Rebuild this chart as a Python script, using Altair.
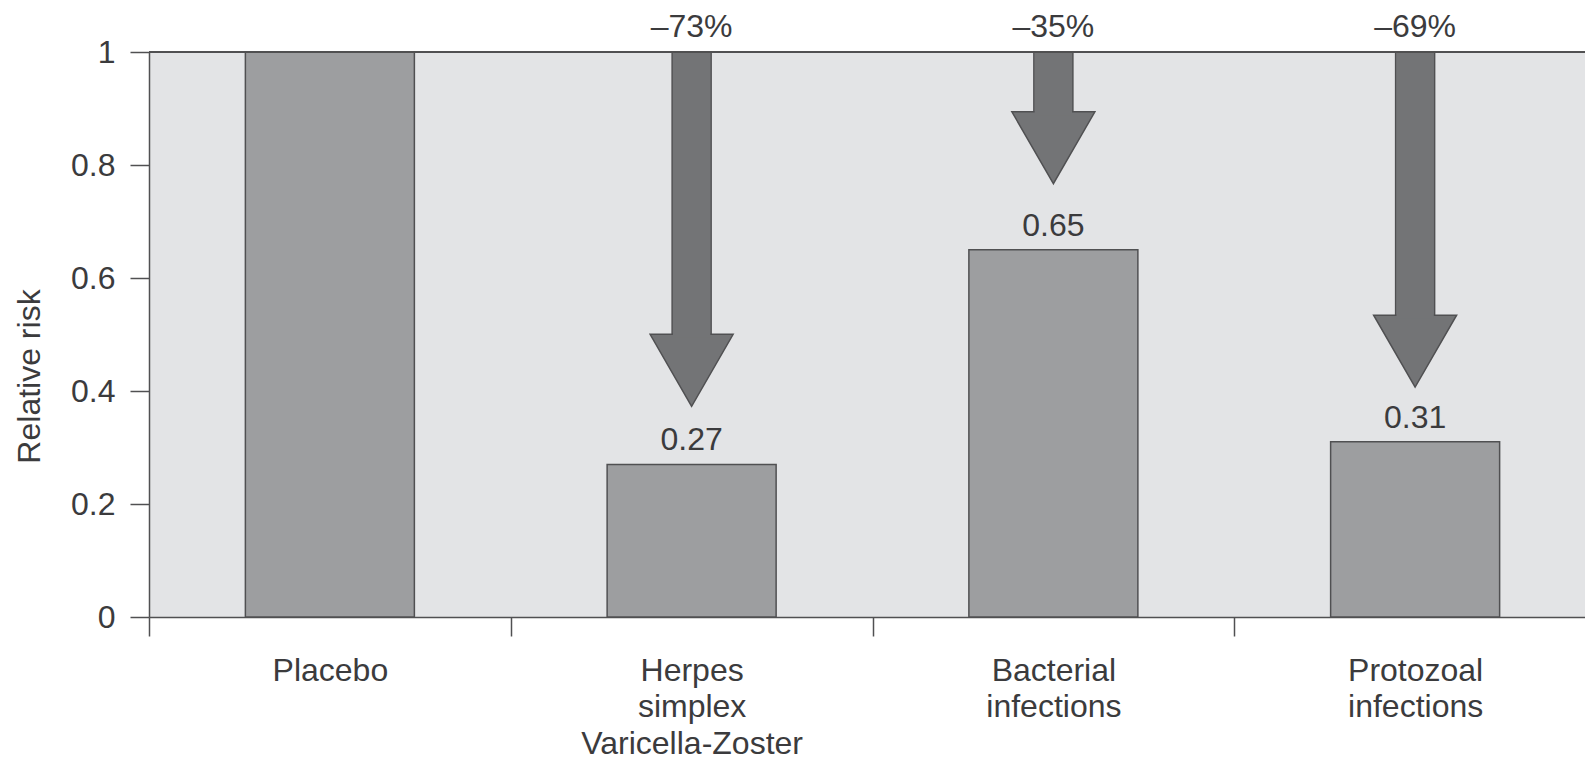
import altair as alt
import pandas as pd

# Categories ("|" separates the lines of a multi-line axis label)
categories = [
    "Placebo",
    "Herpes|simplex|Varicella-Zoster",
    "Bacterial|infections",
    "Protozoal|infections",
]
relative_risk = [1.0, 0.27, 0.65, 0.31]

# Reduction arrows for the treated groups
arrow_categories = categories[1:]
arrow_tips = [0.373, 0.767, 0.407]
reduction_labels = ["–73%", "–35%", "–69%"]

# Layout and style
PLOT_W, PLOT_H = 1436, 565
BAND_SPAN = 1447          # the last band runs past the right edge of the page
BAR_PX = 169
SHAFT_PX = 39
HEAD_PX = 83              # width of the arrow head
HEAD_LEN = (HEAD_PX * 3 ** 0.5 / 2) / PLOT_H   # head height in data units
FONT = "Liberation Sans"
TEXT = "#3b3b3d"
LINE = "#505052"
BAR_FILL = "#9d9ea0"
ARROW_FILL = "#737476"

bars_df = pd.DataFrame({
    "category": categories,
    "risk": relative_risk,
    "label": [""] + [f"{v:.2f}" for v in relative_risk[1:]],
})

arrows_df = pd.DataFrame({
    "category": arrow_categories,
    "tip": arrow_tips,
    "pct": reduction_labels,
})
arrows_df["head_mid"] = arrows_df["tip"] + HEAD_LEN / 2
arrows_df["head_base"] = arrows_df["tip"] + HEAD_LEN
arrows_df["cover_end"] = arrows_df["head_base"] - 0.006
arrows_df["top"] = 1.0

x_scale = alt.Scale(domain=categories, range=[0, BAND_SPAN], paddingInner=0, paddingOuter=0)
y_scale = alt.Scale(domain=[0, 1], nice=False, zero=True)

x_axis = alt.Axis(
    title=None,
    labelExpr="isValid(datum.value) ? split(datum.value, '|') : ''",
    labelAngle=0,
    labelBaseline="top",
    labelLineHeight=36.5,
    labelPadding=19,
    labelLimit=0,
    tickSize=19,
    tickBand="extent",
)
y_axis = alt.Axis(
    title="Relative risk",
    values=[0, 0.2, 0.4, 0.6, 0.8, 1],
    format="~g",
    tickSize=19,
    labelPadding=15,
    titleX=-120,
    titleY=324,
    titleAngle=-90,
    titleAlign="center",
    titleBaseline="middle",
)

x_enc = alt.X("category:N", sort=categories, scale=x_scale, axis=x_axis)


def y_enc(field):
    return alt.Y(f"{field}:Q", scale=y_scale, axis=y_axis)


bars = alt.Chart(bars_df).mark_bar(
    size=BAR_PX, fill=BAR_FILL, stroke=LINE, strokeWidth=1.5
).encode(x=x_enc, y=y_enc("risk"))

bar_labels = alt.Chart(bars_df).mark_text(
    dy=-14, baseline="alphabetic", font=FONT, fontSize=32, color=TEXT
).encode(x=x_enc, y=y_enc("risk"), text="label:N")

shafts = alt.Chart(arrows_df).mark_bar(
    size=SHAFT_PX, fill=ARROW_FILL, stroke=LINE, strokeWidth=1.5
).encode(x=x_enc, y=y_enc("top"), y2="head_base:Q")

heads = alt.Chart(arrows_df).mark_point(
    shape="triangle-down", size=HEAD_PX ** 2, filled=True, opacity=1,
    fill=ARROW_FILL, stroke=LINE, strokeWidth=1.5,
).encode(x=x_enc, y=y_enc("head_mid"))

# plain fill over the shaft/head junction so the arrow reads as one shape
covers = alt.Chart(arrows_df).mark_bar(
    size=SHAFT_PX - 1.6, fill=ARROW_FILL, strokeWidth=0
).encode(x=x_enc, y=y_enc("top"), y2="cover_end:Q")

pct_labels = alt.Chart(arrows_df).mark_text(
    dy=-15, baseline="alphabetic", font=FONT, fontSize=32, color=TEXT
).encode(x=x_enc, y=y_enc("top"), text="pct:N")

top_line = alt.Chart(bars_df).mark_rule(color=LINE, strokeWidth=1.5).encode(
    y=alt.datum(1),
    x=alt.value(0),
    x2=alt.value(PLOT_W),
)

chart = alt.layer(
    bars, bar_labels, shafts, heads, covers, pct_labels, top_line
).properties(
    width=PLOT_W,
    height=PLOT_H,
    autosize=alt.AutoSizeParams(type="none"),
    padding={"left": 149, "top": 52, "right": 0, "bottom": 141},
    background="white",
).configure_view(
    fill="#e3e4e6", stroke=None
).configure_axis(
    domainColor=LINE,
    domainWidth=1.5,
    tickColor=LINE,
    tickWidth=1.5,
    grid=False,
    labelFont=FONT,
    labelFontSize=32,
    labelColor=TEXT,
    titleFont=FONT,
    titleFontSize=32,
    titleFontWeight="normal",
    titleColor=TEXT,
)

chart.save("out.html", embed_options={"renderer": "svg", "actions": False})
